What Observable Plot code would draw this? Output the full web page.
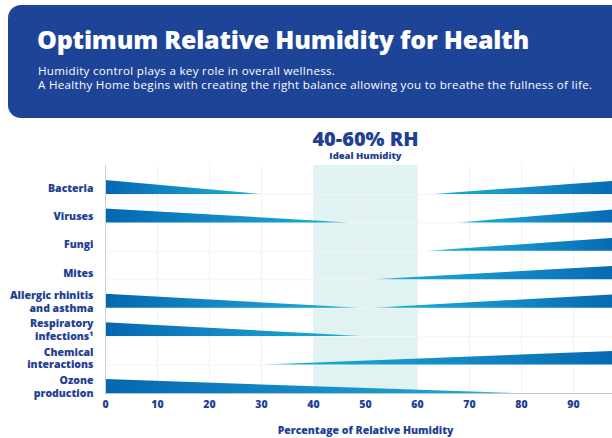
<!DOCTYPE html>
<html>
<head>
<meta charset="utf-8">
<script src="https://cdn.jsdelivr.net/npm/d3@7"></script>
<script src="https://cdn.jsdelivr.net/npm/@observablehq/plot@0.6"></script>
<style>
  html, body { margin: 0; padding: 0; width: 612px; height: 438px; overflow: hidden; background: #fff; font-family: "Open Sans", sans-serif; }
  #header { position: absolute; left: 8px; top: 5px; width: 660px; height: 113px; background: #1e4498; border-radius: 13px; color: #fff; }
  #title { position: absolute; left: 29px; top: 17px; font-size: 25px; font-weight: 800; letter-spacing: -0.2px; white-space: nowrap; }
  #subtitle { position: absolute; left: 30px; top: 59px; font-size: 11.6px; line-height: 14px; letter-spacing: 0.3px; white-space: nowrap; }
  #chart { position: absolute; left: 0; top: 120px; width: 650px; }
  #chart svg { max-width: none; }
</style>
</head>
<body>
<div id="header">
  <div id="title">Optimum Relative Humidity for Health</div>
  <div id="subtitle">Humidity control plays a key role in overall wellness.<br>A Healthy Home begins with creating the right balance allowing you to breathe the fullness of life.</div>
</div>
<div id="chart"></div>
<script>
const categories = ["Bacteria", "Viruses", "Fungi", "Mites", "Allergic rhinitis\nand asthma", "Respiratory\ninfections¹", "Chemical\ninteractions", "Ozone\nproduction"];
// humidity (%) where the decreasing (left) wedge ends; null = no left wedge
const leftTip = [30, 47, null, null, 49, 49.5, null, 78.5];
// humidity (%) where the increasing (right) wedge starts; null = no right wedge
const rightTip = [63, 68, 62, 51.5, 51.5, null, 30.5, null];
const xTicks = [0, 10, 20, 30, 40, 50, 60, 70, 80, 90, 100];
const idealRange = [40, 60];

const navy = "#233f94";
const half = 0.245;

const leftPts = [], rightPts = [];
categories.forEach((c, i) => {
  if (leftTip[i] != null) {
    leftPts.push({id: "L" + i, x: 0, y1: i + half, y2: i - half});
    leftPts.push({id: "L" + i, x: leftTip[i], y1: i + half, y2: i + half});
  }
  if (rightTip[i] != null) {
    rightPts.push({id: "R" + i, x: rightTip[i], y1: i + half, y2: i + half});
    rightPts.push({id: "R" + i, x: 100, y1: i + half, y2: i - half});
  }
});

const chart = Plot.plot({
  width: 650,
  height: 318,
  marginLeft: 105,
  marginRight: 25,
  marginTop: 45,
  marginBottom: 45,
  style: {fontFamily: "'Open Sans', sans-serif", overflow: "visible", maxWidth: "none"},
  x: {domain: [0, 100]},
  y: {domain: [-0.774, 7.246], reverse: true},
  marks: [
    Plot.rectX([idealRange], {x1: d => d[0], x2: d => d[1], fill: "#e0f2f1"}),
    Plot.ruleX(xTicks.slice(1), {stroke: "#eef1f5", strokeWidth: 1}),
    Plot.ruleY(d3.range(7), {y: i => i + half, stroke: "#f3f5f8", strokeWidth: 1}),
    Plot.areaY(leftPts, {x: "x", y1: "y1", y2: "y2", z: "id", fill: "url(#gradL)", curve: "linear"}),
    Plot.areaY(rightPts, {x: "x", y1: "y1", y2: "y2", z: "id", fill: "url(#gradR)", curve: "linear"}),
    Plot.ruleX([0], {stroke: "#c8d0db", strokeWidth: 1}),
    Plot.ruleY([7.246], {stroke: "#b8c3d3", strokeWidth: 1.2}),
    Plot.axisY(d3.range(categories.length), {
      tickFormat: i => categories[i], tickSize: 0, tickPadding: 12,
      fontWeight: 800, fontSize: 10.5, fill: navy, lineHeight: 1.2, label: null
    }),
    Plot.axisX(xTicks, {
      tickSize: 0, tickPadding: 7, fontWeight: 800, fontSize: 10.5, fill: navy, label: null
    }),
    Plot.text(["Percentage of Relative Humidity"], {
      frameAnchor: "bottom", lineAnchor: "middle", x: 50, dy: 37, fontWeight: 800, fontSize: 10.5, fill: navy
    }),
    Plot.text(["40-60% RH"], {
      frameAnchor: "top", lineAnchor: "middle", x: d3.mean(idealRange), dy: -26, fontWeight: 800, fontSize: 20, fill: navy
    }),
    Plot.text(["Ideal Humidity"], {
      frameAnchor: "top", lineAnchor: "middle", x: d3.mean(idealRange), dy: -9.5, fontWeight: 800, fontSize: 9.5, fill: navy
    })
  ]
});

const defs = d3.create("svg:defs");
function grad(id, reverse) {
  const g = defs.append("linearGradient").attr("id", id)
    .attr("x1", reverse ? 1 : 0).attr("x2", reverse ? 0 : 1).attr("y1", 0).attr("y2", 0);
  [[0, "#0467b1"], [0.55, "#1690c9"], [0.9, "#16acd2"], [1, "#6fd0e6"]].forEach(([o, c]) =>
    g.append("stop").attr("offset", o).attr("stop-color", c));
}
grad("gradL", false);
grad("gradR", true);
chart.insertBefore(defs.node(), chart.firstChild);
document.getElementById("chart").appendChild(chart);
</script>
</body>
</html>
